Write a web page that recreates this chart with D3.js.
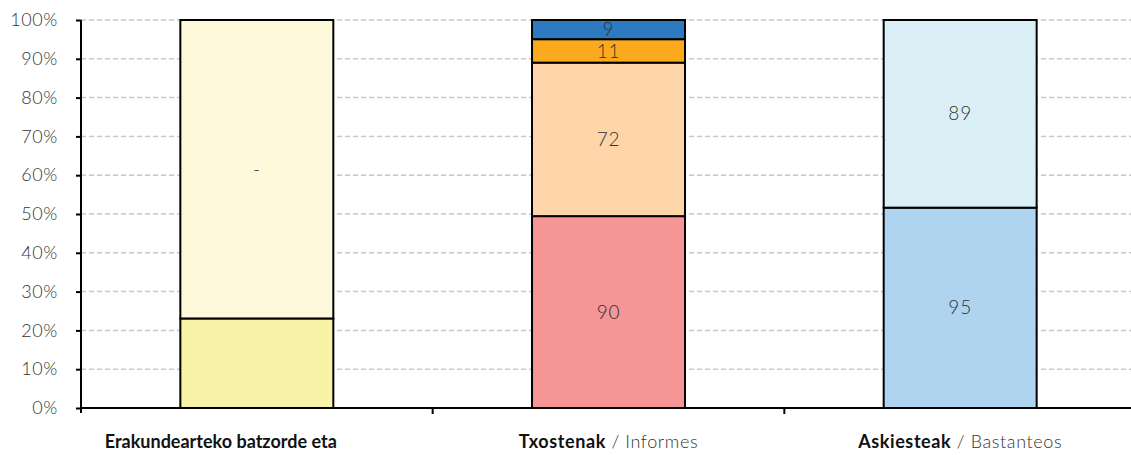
<!DOCTYPE html>
<html><head><meta charset="utf-8">
<script src="https://cdn.jsdelivr.net/npm/d3@7"></script>
<style>
html,body{margin:0;padding:0;background:#fff;}
svg{display:block;font-family:Lato, "DejaVu Sans", sans-serif;}
</style></head>
<body><svg id="c" width="1131" height="455"></svg>
<script>
// ---- data ----
const categories = ["cat1", "cat2", "cat3"];
const labelBold = ["Erakundearteko batzorde eta", "Txostenak", "Askiesteak"];
const labelRegular = ["", " / Informes", " / Bastanteos"];
// segment values per category (bottom -> top)
const seg1Values = [3, 10];
const seg1Labels = ["", "-"];
const seg2Values = [90, 72, 11, 9];
const seg2Labels = ["90", "72", "11", "9"];
const seg3Values = [95, 89];
const seg3Labels = ["95", "89"];
const seg1Colors = ["#F9F3A8", "#FDF9DA"];
const seg2Colors = ["#F59595", "#FDD5A9", "#FBAA1E", "#2E7AC0"];
const seg3Colors = ["#AFD4F0", "#DAEFF6"];
const yTicks = [0, 0.1, 0.2, 0.3, 0.4, 0.5, 0.6, 0.7, 0.8, 0.9, 1];

const series = [
  {values: seg1Values, labels: seg1Labels, colors: seg1Colors},
  {values: seg2Values, labels: seg2Labels, colors: seg2Colors},
  {values: seg3Values, labels: seg3Labels, colors: seg3Colors}
];

// ---- layout ----
const svg = d3.select("#c");
const mLeft = 81, mRight = 1136, mTop = 20, mBottom = 408;
const x = d3.scaleBand().domain(categories).range([mLeft, mRight]).paddingInner(0).paddingOuter(0);
const y = d3.scaleLinear().domain([0, 1]).range([mBottom, mTop]);
const barW = x.bandwidth() * 0.435;

// gridlines
svg.append("g").selectAll("line").data(yTicks.filter(d => d > 0)).join("line")
  .attr("x1", mLeft).attr("x2", 1131)
  .attr("y1", d => y(d)).attr("y2", d => y(d))
  .attr("stroke", "#C8C8C8").attr("stroke-width", 1.5).attr("stroke-dasharray", "5,3");

// bars
series.forEach((s, i) => {
  const total = d3.sum(s.values);
  let cum = 0;
  const segs = s.values.map((v, j) => {
    const o = {y0: cum / total, y1: (cum + v) / total, label: s.labels[j], color: s.colors[j]};
    cum += v; return o;
  });
  const cx = x(categories[i]) + x.bandwidth() / 2;
  const g = svg.append("g");
  g.selectAll("rect").data(segs).join("rect")
    .attr("x", cx - barW / 2).attr("width", barW)
    .attr("y", d => y(d.y1)).attr("height", d => y(d.y0) - y(d.y1))
    .attr("fill", d => d.color).attr("stroke", "#000").attr("stroke-width", 2);
  g.selectAll("text").data(segs).join("text")
    .attr("x", cx).attr("y", d => (y(d.y0) + y(d.y1)) / 2)
    .attr("text-anchor", "middle").attr("dy", "0.35em")
    .attr("font-size", 19).attr("font-weight", 300).attr("fill", "#333")
    .attr("letter-spacing", 0.8)
    .text(d => d.label);
});

// y axis
const yAxis = d3.axisLeft(y).tickValues(yTicks).tickFormat(d3.format(".0%")).tickSize(5).tickPadding(18);
const ya = svg.append("g").attr("transform", `translate(${mLeft},0)`).call(yAxis);
ya.select(".domain").attr("stroke", "#000").attr("stroke-width", 2).attr("d", `M0,${mTop}V${mBottom + 5}`);
ya.selectAll(".tick line").attr("stroke", "#000").attr("stroke-width", 2);
ya.selectAll(".tick text").attr("font-size", 18).attr("font-weight", 300).attr("fill", "#333")
  .attr("letter-spacing", 0.6).attr("font-family", "Lato, sans-serif");

// x axis
const xa = svg.append("g").attr("transform", `translate(0,${mBottom})`);
xa.append("line").attr("x1", mLeft).attr("x2", 1131).attr("stroke", "#000").attr("stroke-width", 2);
xa.selectAll("line.t").data(categories.slice(1)).join("line").attr("class", "t")
  .attr("x1", d => x(d)).attr("x2", d => x(d)).attr("y1", 0).attr("y2", 6)
  .attr("stroke", "#000").attr("stroke-width", 2);

// category labels
const labelOffset = [-36, 0, 0];
const labelSpacing = [0, 0.6, 0.6];
categories.forEach((c, i) => {
  const t = svg.append("text")
    .attr("x", x(c) + x.bandwidth() / 2 + labelOffset[i]).attr("y", 448)
    .attr("text-anchor", "middle").attr("font-size", 18).attr("fill", "#111")
    .attr("letter-spacing", labelSpacing[i]);
  t.append("tspan").attr("font-weight", 700).text(labelBold[i]);
  if (labelRegular[i]) t.append("tspan").attr("font-weight", 300).attr("fill", "#333").text(labelRegular[i]);
});
</script></body></html>
